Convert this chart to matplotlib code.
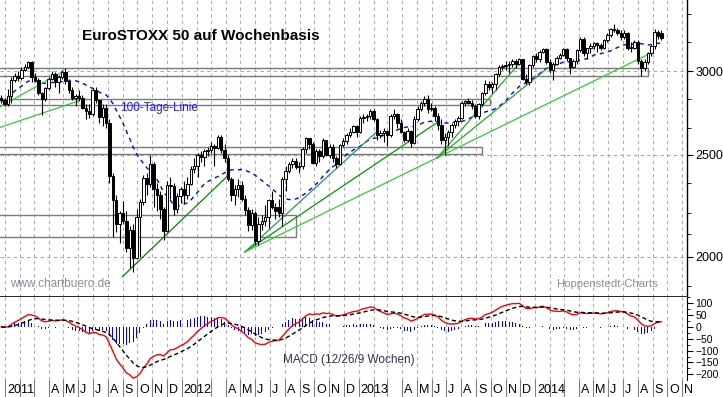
import numpy as np
import pandas as pd
import matplotlib
matplotlib.use('Agg')
import matplotlib.pyplot as plt
import matplotlib.dates as mdates
from matplotlib.patches import Rectangle
from matplotlib.ticker import FixedLocator, NullFormatter

plt.rcParams['font.family'] = ['Liberation Sans', 'DejaVu Sans']

# weekly candles (Friday), Dec 2010 - Sep 2014
weeks = pd.date_range('2010-12-24', periods=196, freq='W-FRI')

opens = [
    2830, 2818,
    # 2011
    2793, 2840, 2945, 2970, 2955, 3010, 3030, 3060, 2960, 2945, 2860, 2825, 2890,
    2950, 2985, 2930, 2965, 2995, 2935, 2880, 2830, 2840, 2830, 2770, 2750, 2730,
    2880, 2815, 2715, 2770, 2680, 2385, 2265, 2150, 2200, 2160, 2040, 2120, 1995,
    2180, 2255, 2375, 2345, 2450, 2320, 2290, 2220, 2115, 2340, 2335, 2220, 2285,
    # 2012
    2317, 2290, 2345, 2420, 2440, 2500, 2485, 2520, 2525, 2550, 2535, 2600, 2525,
    2480, 2370, 2290, 2320, 2340, 2270, 2215, 2145, 2200, 2070, 2150, 2160, 2180,
    2265, 2230, 2230, 2200, 2370, 2410, 2450, 2465, 2435, 2440, 2530, 2590, 2560,
    2455, 2520, 2490, 2580, 2500, 2540, 2480, 2450, 2555, 2575, 2610, 2625, 2660,
    # 2013
    2625, 2710, 2715, 2720, 2750, 2700, 2610, 2620, 2630, 2610, 2720, 2730, 2680,
    2625, 2580, 2630, 2565, 2705, 2760, 2800, 2825, 2760, 2770, 2720, 2670, 2580,
    2600, 2625, 2670, 2690, 2710, 2800, 2810, 2800, 2780, 2720, 2790, 2860, 2920,
    2900, 2920, 2980, 3030, 3035, 3040, 3050, 3070, 3050, 3080, 2950, 2930, 3040,
    # 2014
    3100, 3080, 3130, 3150, 3060, 3010, 3050, 3090, 3110, 3150, 3085, 3030, 3070,
    3140, 3220, 3120, 3155, 3170, 3190, 3180, 3160, 3210, 3245, 3290, 3280, 3265,
    3230, 3265, 3160, 3160, 3200, 3070, 3020, 3060, 3120, 3170, 3270, 3265,
]
highs = [
    2850, 2830,
    2885, 2965, 2990, 3000, 3025, 3045, 3070, 3065, 2990, 2955, 2870, 2900, 2960,
    3000, 2995, 2975, 3005, 3020, 2950, 2900, 2855, 2880, 2850, 2790, 2790, 2890,
    2900, 2820, 2790, 2790, 2700, 2400, 2290, 2210, 2260, 2210, 2140, 2150, 2220,
    2270, 2390, 2400, 2500, 2460, 2350, 2310, 2230, 2360, 2380, 2350, 2300, 2330,
    2360, 2380, 2440, 2480, 2510, 2520, 2530, 2540, 2570, 2560, 2611, 2610, 2560,
    2500, 2380, 2340, 2370, 2360, 2290, 2230, 2220, 2210, 2180, 2190, 2240, 2270,
    2310, 2250, 2270, 2380, 2440, 2460, 2480, 2480, 2460, 2540, 2600, 2595, 2570,
    2530, 2530, 2590, 2580, 2560, 2560, 2490, 2560, 2590, 2620, 2650, 2670, 2670,
    2720, 2730, 2730, 2760, 2760, 2710, 2640, 2650, 2640, 2730, 2760, 2740, 2700,
    2630, 2650, 2640, 2720, 2780, 2810, 2840, 2850, 2800, 2780, 2740, 2700, 2620,
    2640, 2680, 2700, 2720, 2810, 2820, 2830, 2820, 2790, 2800, 2870, 2940, 2935,
    2930, 2990, 3040, 3050, 3070, 3070, 3080, 3080, 3090, 3080, 2980, 3050, 3110,
    3120, 3140, 3160, 3160, 3080, 3060, 3100, 3120, 3160, 3160, 3090, 3080, 3150,
    3230, 3230, 3160, 3190, 3200, 3200, 3190, 3220, 3260, 3300, 3325, 3300, 3280,
    3280, 3270, 3200, 3210, 3210, 3080, 3080, 3130, 3180, 3290, 3280, 3280,
]
lows = [
    2800, 2780,
    2780, 2800, 2930, 2935, 2945, 3000, 3020, 2930, 2930, 2850, 2725, 2810, 2880,
    2940, 2900, 2860, 2950, 2920, 2860, 2815, 2780, 2810, 2760, 2700, 2710, 2720,
    2800, 2680, 2660, 2650, 2350, 2090, 2110, 2060, 2150, 2020, 1950, 1935, 1990,
    2000, 2240, 2290, 2330, 2230, 2210, 2170, 2075, 2110, 2270, 2190, 2200, 2250,
    2250, 2270, 2340, 2400, 2380, 2460, 2440, 2490, 2510, 2440, 2530, 2510, 2460,
    2360, 2260, 2240, 2280, 2260, 2190, 2115, 2120, 2050, 2050, 2120, 2140, 2130,
    2220, 2170, 2180, 2140, 2310, 2400, 2430, 2420, 2400, 2420, 2510, 2530, 2450,
    2440, 2460, 2480, 2490, 2480, 2460, 2430, 2445, 2540, 2560, 2600, 2620, 2600,
    2620, 2680, 2690, 2700, 2690, 2580, 2590, 2570, 2550, 2600, 2700, 2650, 2620,
    2570, 2570, 2540, 2560, 2690, 2750, 2780, 2740, 2750, 2690, 2640, 2560, 2500,
    2550, 2600, 2650, 2660, 2700, 2780, 2790, 2760, 2710, 2700, 2780, 2850, 2880,
    2860, 2880, 2970, 3010, 3010, 2990, 3030, 3020, 3040, 2940, 2920, 2910, 3030,
    3060, 3060, 3120, 3050, 2990, 2945, 3040, 3080, 3100, 3070, 2985, 3020, 3050,
    3130, 3100, 3080, 3120, 3150, 3130, 3140, 3150, 3200, 3230, 3270, 3250, 3210,
    3220, 3140, 3130, 3150, 3050, 2970, 3000, 3050, 3100, 3150, 3220, 3210,
]
closes = [
    2818, 2793,
    2840, 2945, 2970, 2955, 3010, 3030, 3060, 2960, 2945, 2860, 2825, 2890, 2950,
    2985, 2930, 2965, 2995, 2935, 2880, 2830, 2840, 2830, 2770, 2750, 2730, 2880,
    2815, 2715, 2770, 2680, 2385, 2265, 2150, 2200, 2160, 2040, 2120, 1995, 2180,
    2255, 2375, 2345, 2450, 2320, 2290, 2220, 2115, 2340, 2335, 2220, 2285, 2317,
    2290, 2345, 2420, 2440, 2500, 2485, 2520, 2525, 2550, 2535, 2600, 2525, 2480,
    2370, 2290, 2320, 2340, 2270, 2215, 2145, 2200, 2070, 2150, 2160, 2180, 2265,
    2230, 2210, 2200, 2370, 2410, 2450, 2465, 2435, 2440, 2530, 2590, 2560, 2455,
    2520, 2490, 2580, 2500, 2540, 2480, 2450, 2555, 2575, 2610, 2625, 2660, 2625,
    2710, 2715, 2720, 2750, 2700, 2610, 2620, 2630, 2610, 2720, 2730, 2680, 2625,
    2580, 2630, 2565, 2705, 2760, 2800, 2825, 2760, 2770, 2720, 2670, 2580, 2600,
    2625, 2670, 2690, 2710, 2800, 2810, 2800, 2780, 2720, 2790, 2860, 2920, 2900,
    2920, 2980, 3030, 3035, 3040, 3050, 3070, 3050, 3080, 2950, 2930, 3040, 3100,
    3080, 3130, 3150, 3060, 3010, 3050, 3090, 3110, 3150, 3085, 3030, 3070, 3140,
    3220, 3120, 3155, 3170, 3190, 3180, 3160, 3210, 3245, 3290, 3280, 3265, 3230,
    3265, 3160, 3160, 3200, 3070, 3020, 3060, 3120, 3170, 3270, 3240, 3225,
]

# support / resistance boxes: (start, end, low, high)
boxes = [
    ('2010-12-01', '2014-08-22', 2967, 3020),
    ('2010-12-01', '2013-09-30', 2784, 2826),
    ('2010-12-01', '2013-09-14', 2505, 2540),
    ('2010-12-01', '2012-08-24', 2088, 2190),
]
# trend lines: (date1, price1, date2, price2, colour)
trend_lines = [
    ('2010-12-21', 2653, '2011-06-02', 2811, '#33cc33'),
    ('2010-12-21', 2775, '2011-04-30', 2997, '#33cc33'),
    ('2011-09-01', 1915, '2012-04-03', 2381, '#008800'),
    ('2012-05-11', 2021, '2013-02-07', 2627, '#2a9a55'),
    ('2012-05-11', 2021, '2013-06-14', 2685, '#009900'),
    ('2012-05-11', 2021, '2014-08-20', 3109, '#33cc33'),
    ('2013-06-12', 2482, '2013-11-28', 3048, '#22aa22'),
    ('2013-06-12', 2482, '2014-01-27', 3022, '#22aa22'),
]

months_de = {4: 'A', 5: 'M', 6: 'J', 7: 'J', 8: 'A', 9: 'S', 10: 'O', 11: 'N', 12: 'D'}

o = np.array(opens, float)
h = np.array(highs, float)
l = np.array(lows, float)
c = np.array(closes, float)
x = mdates.date2num(weeks)

# indicators
cs = pd.Series(c, index=weeks)
ma100 = cs.rolling(20, min_periods=1).mean()  # 100 Tage = 20 Wochen
ema12 = cs.ewm(span=12, adjust=False).mean()
ema26 = cs.ewm(span=26, adjust=False).mean()
macd = ema12 - ema26
signal = macd.ewm(span=9, adjust=False).mean()
hist = macd - signal

fig = plt.figure(figsize=(7.23, 3.97), dpi=100)
ax = fig.add_axes([0, 0.2519, 0.9502, 0.7481])
axm = fig.add_axes([0, 0.0428, 0.9502, 0.2091], sharex=ax)
axl = fig.add_axes([0, 0, 0.9502, 0.0428], sharex=ax)

px_per_day = 176.7 / 365.25
x_start = mdates.date2num(pd.Timestamp('2011-01-01')) - 5 / px_per_day
x_end = x_start + 687 / px_per_day
ax.set_xlim(x_start, x_end)

month_starts = pd.date_range('2011-01-01', '2014-11-01', freq='MS')
mx = mdates.date2num(month_starts)

# main panel
ax.set_yscale('log')
ax.set_ylim(1831, 3506)
for m in mx:
    ax.axvline(m, color='#b0aab8', lw=0.8, ls=(0, (3, 3)), zorder=0)
    axm.axvline(m, color='#b0aab8', lw=0.8, ls=(0, (3, 3)), zorder=0)
for lvl in [2000, 2500, 3000]:
    ax.axhline(lvl, color='#a8a8a8', lw=0.8, ls=(0, (3, 3)), zorder=0)

for s, e, lo, hi in boxes:
    xs = mdates.date2num(pd.Timestamp(s))
    xe = mdates.date2num(pd.Timestamp(e))
    ax.add_patch(Rectangle((xs, lo), xe - xs, hi - lo, fill=False,
                           edgecolor='#7a7a7a', lw=1.0, zorder=1))

ax.plot(x, ma100.values, color='#0000ff', lw=1.0, ls=(0, (3, 3)), zorder=2)

for d1, p1, d2, p2, col in trend_lines:
    ax.plot(mdates.date2num([pd.Timestamp(d1), pd.Timestamp(d2)]), [p1, p2],
            color=col, lw=0.9, zorder=3)

up = c >= o
ax.vlines(x, l, h, color='black', lw=0.8, zorder=4)
body = np.maximum(np.abs(c - o), 3)
ax.bar(x[up], body[up], bottom=np.minimum(o, c)[up], width=5,
       color='white', edgecolor='black', lw=0.7, zorder=5)
ax.bar(x[~up], body[~up], bottom=np.minimum(o, c)[~up], width=5,
       color='black', edgecolor='black', lw=0.7, zorder=5)

ax.yaxis.tick_right()
ax.yaxis.set_major_locator(FixedLocator([2000, 2500, 3000]))
ax.yaxis.set_minor_locator(FixedLocator([1875, 2100, 2200, 2350, 2650, 2825, 3200, 3400]))
ax.yaxis.set_major_formatter(plt.FuncFormatter(lambda v, p: f'{v:.0f}'))
ax.yaxis.set_minor_formatter(NullFormatter())
ax.tick_params(axis='y', which='major', length=4, labelsize=9, pad=2)
ax.tick_params(axis='y', which='minor', length=3)
ax.tick_params(axis='x', length=0, labelbottom=False)
for sp in ['top', 'left']:
    ax.spines[sp].set_visible(False)
ax.spines['right'].set_linewidth(1.0)
ax.spines['bottom'].set_linewidth(1.2)

# MACD panel
axm.set_ylim(-224, 126)
axm.bar(x, hist.values, width=2, color='#0000ff', zorder=2)
axm.plot(x, macd.values, color='#ff0000', lw=1.0, zorder=3)
axm.plot(x, signal.values, color='black', lw=1.0, ls=(0, (3, 2)), zorder=3)
axm.yaxis.tick_right()
axm.yaxis.set_major_locator(FixedLocator([100, 50, 0, -50, -100, -150, -200]))
axm.yaxis.set_minor_locator(FixedLocator(np.arange(-200, 126, 25)))
axm.tick_params(axis='y', which='major', length=4, labelsize=7.5, pad=2)
axm.tick_params(axis='y', which='minor', length=2)
axm.tick_params(axis='x', length=0, labelbottom=False)
for sp in ['top', 'left', 'bottom']:
    axm.spines[sp].set_visible(False)

# month label strip
axl.set_ylim(0, 1)
for sp in ['top', 'left', 'right', 'bottom']:
    axl.spines[sp].set_visible(False)
axl.set_xticks([])
axl.set_yticks([])
for d, m in zip(month_starts, mx):
    axl.axvline(m, color='#808080', lw=0.8)
    if d.month == 1:
        lab = str(d.year)
    else:
        lab = months_de.get(d.month, '')
    if lab:
        axl.text(m + 2 / px_per_day, 0.4, lab, fontsize=9, ha='left', va='center')

fig.text(82 / 723, 1 - 36 / 397, 'EuroSTOXX 50 auf Wochenbasis', fontsize=11,
         fontweight='bold', ha='left', va='center')
fig.text(120 / 723, 1 - 108 / 397, '100-Tage-Linie', fontsize=8.5, color='#2020ff',
         ha='left', va='center')
fig.text(10 / 723, 1 - 284 / 397, 'www.chartbuero.de', fontsize=8.5, color='#8c8ca0',
         ha='left', va='center')
fig.text(556 / 723, 1 - 284 / 397, 'Hoppenstedt-Charts', fontsize=8.2, color='#8c8ca0',
         ha='left', va='center')
fig.text(283 / 723, 1 - 360 / 397, 'MACD (12/26/9 Wochen)', fontsize=8.5, color='#303050',
         ha='left', va='center')

fig.savefig('out.png', dpi=100)
